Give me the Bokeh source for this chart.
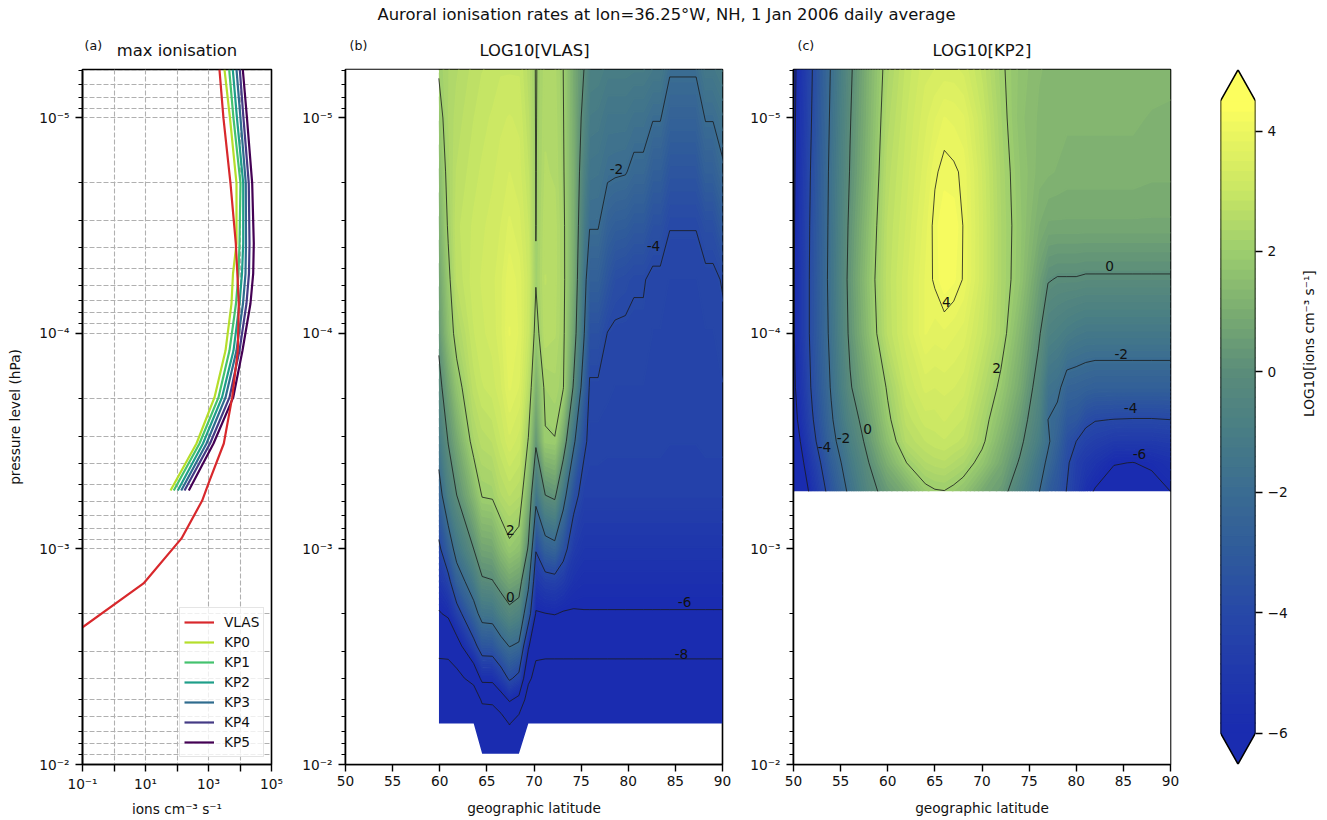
import math
import numpy as np
from bokeh.embed import file_html
from bokeh.resources import INLINE
from bokeh.plotting import figure
from bokeh.layouts import row, column
from bokeh.models import (Range1d, FixedTicker, CustomJSTickFormatter, Label, Legend, LegendItem)
from bokeh.core.properties import value

FONT = "DejaVu Sans"
SUPTITLE = "Auroral ionisation rates at lon=36.25\u00b0W, NH, 1 Jan 2006 daily average"
PANEL_TITLES = ["max ionisation", "LOG10[VLAS]", "LOG10[KP2]"]
PANEL_TAGS = ["(a)", "(b)", "(c)"]

# ---- panel (a): max ionisation profiles
P_KP = [5.96e-6, 1.005e-5, 2.01e-5, 3.82e-5, 5.27e-5, 7.26e-5, 1.2e-4, 1.98e-4, 3.24e-4, 5.35e-4]
KP0 = [3220, 4820, 7745, 7745, 6000, 5370, 3470, 1550, 416, 62.3]
KP1 = [4540, 6220, 10370, 9640, 8950, 7465, 4640, 2075, 518, 79]
KP2 = [5900, 8035, 12650, 12650, 11570, 9640, 6220, 2685, 668, 106]
KP3 = [7745, 10370, 15280, 15500, 14950, 12450, 7745, 3470, 864, 136]
KP4 = [9860, 12900, 19000, 20040, 19300, 16070, 9640, 4640, 1117, 173]
KP5 = [12280, 16680, 24380, 27400, 26240, 21500, 12000, 6085, 1443, 237]
P_VLAS = [5.96e-6, 1.005e-5, 2.01e-5, 3.82e-5, 5.1e-5, 7.26e-5, 1.2e-4, 1.98e-4, 3.24e-4,
          4.96e-4, 5.96e-4, 8.93e-4, 1.445e-3, 2.31e-3, 2.95e-3]
VLAS_MAX = [2230, 2990, 4990, 7360, 8150, 9160, 8510, 5650, 3060, 1000, 631, 139, 8.65, 0.1, 0.0096]
SERIES_NAMES = ["KP0", "KP1", "KP2", "KP3", "KP4", "KP5"]
SERIES_COLORS = ["#b5de2b", "#44c26e", "#1f9e89", "#2f6c8e", "#453b85", "#440154"]
VLAS_COLOR = "#d8282c"

# ---- panel (b): LOG10[VLAS], rows = log10 pressure, one list per latitude
VLAS_LOGP = [-5.225, -5, -4.75, -4.5, -4.25, -4, -3.75, -3.5, -3.25, -3, -2.85, -2.7, -2.55, -2.4, -2.3, -2.19, -2.05]
VLAS_LATS = [59.9, 60.9, 61.8, 63.6, 64.5, 65.6, 66.5, 67.4, 68.4, 69.4, 70.2, 71.2, 72.2, 73.1, 74.2, 75.3,
             75.9, 76.8, 77.8, 78.6, 79.7, 80.6, 81.6, 82.6, 83.4, 84.4, 87.2, 88.2, 89, 90]
N = float("nan")
VLAS_Z = [
 [2.06, 1.73, 1.36, 0.99, 0.61, 0.24, -0.35, -1.34, -2.6, -4.3, -5.2, -6.1, -7.5, -8.8, -9.6, -10.5, N],
 [2.35, 2.35, 2.25, 2.1, 1.8, 1.5, 0.7, 0.05, -0.9, -2.85, -4.4, -5.8, -7.3, -9, -9.6, -10.5, N],
 [2.5, 2.6, 2.7, 2.8, 2.7, 2.3, 1.66, 0.83, 0, -1.45, -2.75, -4.6, -6.65, -8.6, -9.5, -10.5, N],
 [2.75, 2.85, 2.95, 3.05, 3.1, 3.0, 2.75, 2.3, 1.3, 0, -1.2, -2.55, -4.45, -7.3, -9.5, -11, N],
 [2.85, 2.95, 3.05, 3.15, 3.2, 3.15, 3.0, 2.6, 2.05, 0.74, -0.13, -1.5, -3.3, -5.6, -7.7, -9.5, -11],
 [2.9, 3.05, 3.15, 3.25, 3.3, 3.25, 3.1, 2.7, 2.1, 0.81, -0.04, -1.43, -3.25, -5.6, -7.6, -9.5, -11],
 [3.0, 3.15, 3.25, 3.35, 3.45, 3.45, 3.3, 3.0, 2.5, 1.39, 0.44, -0.8, -2.5, -4.8, -6.7, -9, -11],
 [3.0, 3.2, 3.35, 3.55, 3.8, 3.85, 3.7, 3.3, 2.7, 1.83, 0.8, -0.3, -1.95, -3.8, -5.85, -7.9, -10],
 [3.0, 3.15, 3.25, 3.4, 3.6, 3.65, 3.5, 3.1, 2.55, 1.6, 0.6, -0.6, -2.2, -4.4, -6.4, -9, -11],
 [2.6, 2.7, 2.85, 3.0, 3.1, 3.0, 2.65, 1.95, 1.02, -0.13, -1.6, -3.15, -5.8, -7.6, -9, -10.5, N],
 [1.95, 1.96, 1.97, 1.98, 2.05, 1.7, 0.95, 0.2, -1.5, -3.9, -5.05, -6.1, -7.5, -8.6, -9.3, -10, N],
 [2.45, 2.5, 2.55, 2.65, 2.7, 2.65, 2.2, 1.92, 0, -2.65, -4.55, -6.02, -7.4, -8.9, -9.5, -10, N],
 [2.4, 2.45, 2.5, 2.6, 2.6, 2.55, 2.3, 1.97, 0.22, -2.4, -4.45, -5.95, -7.4, -8.9, -9.5, -10, N],
 [2.0, 2.04, 2.08, 2.15, 2.18, 2.15, 2.05, 0.75, -1.43, -3.5, -4.8, -6.1, -7.4, -8.9, -9.5, -10, N],
 [0.9, 0.95, 1.0, 1.0, 0.9, 0.6, -0.12, -1.73, -3.55, -4.8, -5.45, -6.1, -7.4, -8.9, -9.5, -10, N],
 [0, -0.35, -0.75, -1.15, -1.55, -1.9, -2.75, -3.75, -4.5, -5.2, -5.65, -6.05, -7.4, -8.9, -9.5, -10, N],
 [-0.75, -1.1, -1.5, -1.95, -2.7, -3.55, -4.1, -4.25, -4.5, -5.2, -5.65, -6.05, -7.4, -8.9, -9.5, -10, N],
 [-0.8, -1.15, -1.55, -1.95, -2.7, -3.55, -4.1, -4.25, -4.5, -5.2, -5.65, -6.05, -7.4, -8.9, -9.5, -10, N],
 [-1.0, -1.45, -1.85, -2.6, -3.3, -4.02, -4.15, -4.3, -4.5, -5.2, -5.65, -6.05, -7.4, -8.9, -9.5, -10, N],
 [-1.0, -1.45, -1.9, -2.8, -3.7, -4.1, -4.2, -4.3, -4.5, -5.2, -5.65, -6.05, -7.4, -8.9, -9.5, -10, N],
 [-1.0, -1.45, -1.95, -2.85, -3.8, -4.1, -4.2, -4.3, -4.5, -5.2, -5.65, -6.05, -7.4, -8.9, -9.5, -10, N],
 [-1.05, -1.65, -2.2, -3.1, -3.95, -4.1, -4.2, -4.3, -4.5, -5.2, -5.65, -6.05, -7.4, -8.9, -9.5, -10, N],
 [-1.05, -1.65, -2.2, -3.1, -3.95, -4.1, -4.2, -4.3, -4.5, -5.2, -5.65, -6.05, -7.4, -8.9, -9.5, -10, N],
 [-1.25, -1.95, -2.75, -3.55, -4.15, -4.2, -4.25, -4.3, -4.5, -5.2, -5.65, -6.05, -7.4, -8.9, -9.5, -10, N],
 [-1.25, -1.95, -2.75, -3.55, -4.15, -4.2, -4.25, -4.3, -4.5, -5.2, -5.65, -6.05, -7.4, -8.9, -9.5, -10, N],
 [-1.9, -2.55, -3.3, -3.98, -4.2, -4.25, -4.3, -4.35, -4.5, -5.2, -5.65, -6.05, -7.4, -8.9, -9.5, -10, N],
 [-1.9, -2.55, -3.3, -3.98, -4.2, -4.25, -4.3, -4.35, -4.5, -5.2, -5.65, -6.05, -7.4, -8.9, -9.5, -10, N],
 [-1.3, -1.95, -2.7, -3.65, -4.15, -4.2, -4.25, -4.3, -4.5, -5.2, -5.65, -6.05, -7.4, -8.9, -9.5, -10, N],
 [-1.3, -1.95, -2.7, -3.65, -4.15, -4.2, -4.25, -4.3, -4.5, -5.2, -5.65, -6.05, -7.4, -8.9, -9.5, -10, N],
 [-1.05, -1.6, -2.15, -3.05, -3.95, -4.15, -4.2, -4.3, -4.5, -5.2, -5.65, -6.05, -7.4, -8.9, -9.5, -10, N],
]
VLAS_LABELS = ["-2", "-4", "2", "0", "-6", "-8"]
VLAS_LABEL_LAT = [78.75, 82.68, 67.5, 67.5, 85.97, 85.65]
VLAS_LABEL_LOGP = [-4.761, -4.408, -3.09, -2.775, -2.752, -2.515]

# ---- panel (c): LOG10[KP2]
KP2_LOGP = [-5.225, -5, -4.75, -4.5, -4.25, -4, -3.75, -3.6, -3.5, -3.4, -3.267]
KP2_LATS = [50, 52, 54, 56, 58, 60, 62, 64, 65, 66, 67, 68, 70, 72, 74, 76, 77, 78, 79, 80, 81, 82, 84, 86, 88, 90]
KP2_Z = [
 [-6.3, -6.25, -6.2, -6.15, -6.1, -6.1, -6.25, -6.5, -6.9, -7.3, -8.0],
 [-4.0, -3.9, -3.75, -3.65, -3.6, -3.6, -3.8, -4.1, -4.4, -4.9, -5.5],
 [-1.9, -1.8, -1.7, -1.65, -1.6, -1.7, -1.9, -2.15, -2.4, -2.85, -3.4],
 [-0.15, -0.05, 0.05, 0.2, 0.3, 0.2, -0.1, -0.55, -0.9, -1.25, -1.7],
 [1.15, 1.2, 1.3, 1.5, 1.65, 1.5, 1.0, 0.6, 0.35, 0.0, -0.37],
 [2.3, 2.45, 2.6, 2.7, 2.75, 2.7, 2.1, 1.85, 1.55, 1.1, 0.42],
 [2.9, 3.0, 3.1, 3.2, 3.3, 3.3, 3.0, 2.75, 2.55, 2.0, 1.0],
 [3.3, 3.45, 3.6, 3.75, 3.85, 3.85, 3.4, 3.1, 2.85, 2.5, 1.82],
 [3.35, 3.65, 3.95, 4.1, 4.05, 3.75, 3.35, 3.1, 2.95, 2.6, 1.95],
 [3.4, 3.85, 4.1, 4.3, 4.3, 3.8, 3.4, 3.2, 3.0, 2.65, 1.98],
 [3.4, 3.8, 4.05, 4.3, 4.2, 3.7, 3.35, 3.1, 2.9, 2.5, 1.85],
 [3.3, 3.7, 3.95, 3.99, 3.98, 3.6, 3.25, 3.0, 2.8, 2.35, 1.65],
 [2.8, 3.0, 3.15, 3.2, 3.2, 3.0, 2.6, 2.3, 2.15, 1.75, 0.9],
 [2.1, 2.2, 2.3, 2.35, 2.35, 2.3, 1.85, 1.5, 1.2, 0.9, 0.45],
 [1.65, 1.6, 1.7, 1.75, 1.7, 1.3, 0.9, 0.5, 0.25, -0.1, -0.75],
 [1.4, 1.35, 1.3, 1.05, 0.6, 0.15, -0.4, -0.7, -1.0, -1.5, -1.9],
 [1.35, 1.3, 1.25, 0.85, 0.05, -0.7, -1.6, -2.0, -1.85, -2.2, -2.9],
 [1.35, 1.3, 1.2, 0.85, -0.05, -0.85, -1.75, -2.3, -2.6, -3.0, -3.3],
 [1.3, 1.25, 1.15, 0.85, -0.05, -1.05, -2.45, -3.1, -3.55, -3.8, -4.05],
 [1.3, 1.25, 1.15, 0.85, -0.05, -1.2, -2.5, -3.2, -4.0, -4.6, -4.75],
 [1.3, 1.25, 1.15, 0.85, -0.1, -1.3, -2.6, -3.75, -4.4, -5.0, -5.6],
 [1.3, 1.25, 1.15, 0.85, -0.1, -1.3, -2.7, -3.95, -4.6, -5.3, -6.1],
 [1.3, 1.25, 1.15, 0.85, -0.1, -1.3, -2.7, -4.02, -4.9, -5.95, -6.5],
 [1.3, 1.25, 1.15, 0.85, -0.1, -1.3, -2.7, -4.05, -4.9, -6.02, -6.6],
 [1.3, 1.2, 1.1, 0.85, -0.1, -1.3, -2.7, -4.05, -4.9, -5.85, -6.4],
 [1.25, 1.2, 1.1, 0.85, -0.1, -1.3, -2.7, -4.0, -4.8, -5.55, -6.0],
]
KP2_LABELS = ["0", "-2", "-4", "-6", "4", "2", "0", "-2", "-4"]
KP2_LABEL_LAT = [83.53, 84.77, 85.76, 86.71, 66.23, 71.54, 57.85, 55.3, 53.29]
KP2_LABEL_LOGP = [-4.311, -3.907, -3.652, -3.439, -4.148, -3.842, -3.559, -3.513, -3.471]

CONTOUR_LEVELS = [-8, -6, -4, -2, 0, 2, 4]
CBAR_TICKS = [-6, -4, -2, 0, 2, 4]
CBAR_MIN, CBAR_MAX, N_BANDS = -6.0, 4.5, 64
CMAP_VALUES = [-6.5, -6, -5, -4, -3, -2, -1, 0, 1, 2, 3, 4, 4.5]
CMAP_RGB = [(26, 42, 176), (26, 43, 176), (32, 56, 172), (39, 72, 168), (47, 90, 155), (58, 108, 146),
            (72, 125, 133), (90, 140, 122), (122, 172, 113), (156, 205, 110), (200, 230, 100),
            (236, 246, 96), (255, 255, 94)]

BOUNDS = np.linspace(CBAR_MIN, CBAR_MAX, N_BANDS + 1)
MIDS = 0.5 * (BOUNDS[:-1] + BOUNDS[1:])
PALETTE = ["#%02x%02x%02x" % tuple(int(round(np.interp(m, CMAP_VALUES, [c[i] for c in CMAP_RGB]))) for i in range(3))
           for m in MIDS]
FILL_LEVELS = [-40.0] + list(BOUNDS[1:-1]) + [40.0]

YTOP = 10 ** -5.225
YTICKS = [1e-5, 1e-4, 1e-3, 1e-2]
YMINOR = [m * 10.0 ** e for e in (-6, -5, -4, -3) for m in range(2, 10) if YTOP <= m * 10.0 ** e < 1e-2]

YFMT = """
const e = Math.round(Math.log10(tick));
const sup = {'-':'\u207b','0':'\u2070','1':'\u00b9','2':'\u00b2','3':'\u00b3','4':'\u2074','5':'\u2075','6':'\u2076'};
return '10' + String(e).split('').map(c => sup[c]).join('');
"""
XFMT = """
const e = Math.round(Math.log10(tick));
if (e % 2 == 0) return '';
const sup = {'-':'\u207b','0':'\u2070','1':'\u00b9','2':'\u00b2','3':'\u00b3','4':'\u2074','5':'\u2075','6':'\u2076'};
return '10' + String(e).split('').map(c => sup[c]).join('');
"""

TICK_PT = "13.7px"
LABEL_PT = "13.7px"
TITLE_PT = "16.4px"
FRAME_H = 695
HEAD_H, TOP, BOTTOM = 65, 4, 52


def style(p, ylabel_standoff=5, xlabel_standoff=11):
    p.outline_line_color = "black"
    p.outline_line_width = 1.6
    for ax in list(p.xaxis) + list(p.yaxis):
        ax.axis_line_color = "black"
        ax.axis_line_width = 1.6
        ax.major_tick_out = 7
        ax.major_tick_in = 0
        ax.minor_tick_out = 4
        ax.minor_tick_in = 0
        ax.major_tick_line_width = 1.4
        ax.minor_tick_line_width = 1.2
        ax.major_label_standoff = 6
        ax.major_label_text_font = FONT
        ax.major_label_text_font_size = TICK_PT
        ax.major_label_text_color = "#111111"
        ax.axis_label_text_font = FONT
        ax.axis_label_text_font_size = LABEL_PT
        ax.axis_label_text_font_style = "normal"
        ax.axis_label_text_color = "#111111"
    p.xaxis.major_label_standoff = 4
    p.xaxis.axis_label_standoff = xlabel_standoff
    p.yaxis.axis_label_standoff = ylabel_standoff
    p.yaxis.ticker = FixedTicker(ticks=YTICKS, minor_ticks=YMINOR)
    p.yaxis.formatter = CustomJSTickFormatter(code=YFMT)


def make(width, left, right, xr, x_axis_type="linear"):
    return figure(width=width, height=TOP + FRAME_H + BOTTOM, frame_width=width - left - right, frame_height=FRAME_H,
                  min_border_left=left, min_border_right=right, min_border_top=TOP, min_border_bottom=BOTTOM,
                  x_range=xr, y_range=Range1d(1e-2, YTOP), x_axis_type=x_axis_type, y_axis_type="log",
                  output_backend="svg", toolbar_location=None)


def powten(a):
    if isinstance(a, np.ndarray):
        return 10.0 ** a
    return [powten(b) for b in a]


def field_panel(p, lats, logp, table, labels, label_lat, label_logp):
    z = np.ma.masked_invalid(np.array(table, dtype=float).T)
    x = np.array(lats, dtype=float)
    y = np.array(logp, dtype=float)
    band = p.contour(x, y, z, FILL_LEVELS, fill_color=PALETTE, line_color=PALETTE + [PALETTE[-1]], line_width=1.7)
    # white covers trim the ends of the seam-hiding strokes at the edge of the data
    if x[0] > 50:
        p.quad(left=50, right=x[0], bottom=1e-2, top=YTOP, fill_color="white", line_color=None)
    if np.all(np.isfinite(np.array(table, dtype=float))):
        p.quad(left=50, right=90, bottom=1e-2, top=10.0 ** y[-1], fill_color="white", line_color=None)
    iso = p.contour(x, y, z, CONTOUR_LEVELS, line_color="#1a1a1a", line_width=0.8)
    for r in (band.fill_renderer, band.line_renderer, iso.line_renderer, iso.fill_renderer):
        d = dict(r.data_source.data)
        if "ys" in d:
            d["ys"] = powten(list(d["ys"]))
            r.data_source.data = d
    p.text(x=label_lat, y=[10.0 ** v for v in label_logp], text=labels,
           text_align="center", text_baseline="middle", text_color="#111111",
           text_font=value(FONT), text_font_size=LABEL_PT)
    p.xaxis.ticker = FixedTicker(ticks=[50, 55, 60, 65, 70, 75, 80, 85, 90])
    p.xaxis.axis_label = "geographic latitude"
    p.xgrid.visible = False
    p.ygrid.visible = False


# panel a
pa = make(290, 82, 19, Range1d(0.1, 1e5), "log")
leg_items = []
for name, vals, col in zip(SERIES_NAMES, [KP0, KP1, KP2, KP3, KP4, KP5], SERIES_COLORS):
    r = pa.line(vals, P_KP, line_color=col, line_width=2.2, line_join="round")
    leg_items.append((name, r))
rv = pa.line(VLAS_MAX, P_VLAS, line_color=VLAS_COLOR, line_width=2.2, line_join="round")
leg_items.insert(0, ("VLAS", rv))
legend = Legend(items=[LegendItem(label=n, renderers=[r]) for n, r in leg_items],
                location=(97, 7), margin=0, padding=4, spacing=0, label_height=20, glyph_height=20,
                glyph_width=30, label_standoff=10, label_text_font=FONT, label_text_font_size=LABEL_PT,
                label_text_color="#111111", border_line_color="#cccccc", border_line_width=1.5,
                background_fill_color="white", background_fill_alpha=0.8)
pa.add_layout(legend)
pa.xgrid.grid_line_color = "#b0b0b0"
pa.xgrid.grid_line_dash = "5 2"
pa.xgrid.grid_line_width = 1.1
pa.ygrid.grid_line_color = "#b0b0b0"
pa.ygrid.grid_line_dash = "5 2"
pa.ygrid.grid_line_width = 1.1
pa.ygrid.minor_grid_line_color = "#b0b0b0"
pa.ygrid.minor_grid_line_dash = "5 2"
pa.ygrid.minor_grid_line_width = 1.1
pa.xaxis.axis_label = "ions cm\u207b\u00b3 s\u207b\u00b9"
pa.yaxis.axis_label = "pressure level (hPa)"
style(pa, ylabel_standoff=13, xlabel_standoff=6)
pa.xaxis.ticker = FixedTicker(ticks=[0.1, 1, 10, 100, 1000, 1e4, 1e5])
pa.xaxis.formatter = CustomJSTickFormatter(code=XFMT)
pa.xgrid.ticker = FixedTicker(ticks=[1, 10, 100, 1000, 1e4])
pa.ygrid.ticker = FixedTicker(ticks=YTICKS, minor_ticks=YMINOR)

# panel b
pb = make(450, 55, 18, Range1d(50, 90))
field_panel(pb, VLAS_LATS, VLAS_LOGP, VLAS_Z, VLAS_LABELS, VLAS_LABEL_LAT, VLAS_LABEL_LOGP)
style(pb)

# panel c
pc = make(450, 53, 20, Range1d(50, 90))
field_panel(pc, KP2_LATS, KP2_LOGP, KP2_Z, KP2_LABELS, KP2_LABEL_LAT, KP2_LABEL_LOGP)
style(pc)

# colour bar
EXT = 0.515
pad = 0.0075
cb = figure(width=137, height=TOP + FRAME_H + BOTTOM, frame_width=35, frame_height=FRAME_H,
            min_border_left=30, min_border_right=72, min_border_top=TOP, min_border_bottom=BOTTOM,
            x_range=Range1d(0, 1), y_range=Range1d(CBAR_MIN - EXT - pad, CBAR_MAX + EXT + pad),
            x_axis_location=None, y_axis_location="right",
            output_backend="svg", toolbar_location=None)
cb.outline_line_color = None
cb.xgrid.visible = False
cb.ygrid.visible = False
cb.quad(left=0, right=1, bottom=BOUNDS[:-1], top=BOUNDS[1:], fill_color=PALETTE, line_color=PALETTE, line_width=1.7)
cb.patch([0, 0.5, 1], [CBAR_MIN, CBAR_MIN - EXT, CBAR_MIN], fill_color=PALETTE[0], line_color=None)
cb.patch([0, 0.5, 1], [CBAR_MAX, CBAR_MAX + EXT, CBAR_MAX], fill_color=PALETTE[-1], line_color=None)
cb.patch([0, 0.5, 1, 1, 0.5, 0], [CBAR_MIN, CBAR_MIN - EXT, CBAR_MIN, CBAR_MAX, CBAR_MAX + EXT, CBAR_MAX],
         fill_color=None, line_color="black", line_width=1.6)
ax = cb.yaxis[0]
ax.ticker = FixedTicker(ticks=CBAR_TICKS)
ax.major_label_overrides = {t: str(t).replace("-", "\u2212") for t in CBAR_TICKS}
ax.axis_line_color = None
ax.major_tick_out = 7
ax.major_tick_in = 0
ax.minor_tick_line_color = None
ax.major_tick_line_width = 1.4
ax.major_label_text_font = FONT
ax.major_label_text_font_size = TICK_PT
ax.major_label_text_color = "#111111"
ax.axis_label = "LOG10[ions cm\u207b\u00b3 s\u207b\u00b9]"
ax.axis_label_orientation = math.pi / 2
ax.axis_label_standoff = 18
ax.axis_label_text_font = FONT
ax.axis_label_text_font_size = LABEL_PT
ax.axis_label_text_font_style = "normal"
ax.axis_label_text_color = "#111111"

# heading strip: figure title, panel titles and panel tags (x in page pixels, y up from strip bottom)
head = figure(width=1327, height=HEAD_H, x_range=Range1d(0, 1327), y_range=Range1d(0, HEAD_H),
              min_border=0, output_backend="svg", toolbar_location=None,
              x_axis_location=None, y_axis_location=None)
head.outline_line_color = None
head.xgrid.visible = False
head.ygrid.visible = False
head.add_layout(Label(x=666, y=HEAD_H - 14, text=SUPTITLE, text_align="center", text_baseline="middle",
                      text_font=FONT, text_font_size=TITLE_PT, text_color="#111111"))
for cx, txt in zip([176.5, 534, 981.5], PANEL_TITLES):
    head.add_layout(Label(x=cx, y=HEAD_H - 50, text=txt, text_align="center", text_baseline="middle",
                          text_font=FONT, text_font_size=TITLE_PT, text_color="#111111"))
for lx, txt in zip([84, 349, 797], PANEL_TAGS):
    head.add_layout(Label(x=lx, y=HEAD_H - 45, text=txt, text_align="left", text_baseline="middle",
                          text_font=FONT, text_font_size="12.6px", text_color="#111111"))

page = column(head, row(pa, pb, pc, cb, spacing=0), spacing=0)
open("out.html", "w").write(file_html(page, INLINE))
